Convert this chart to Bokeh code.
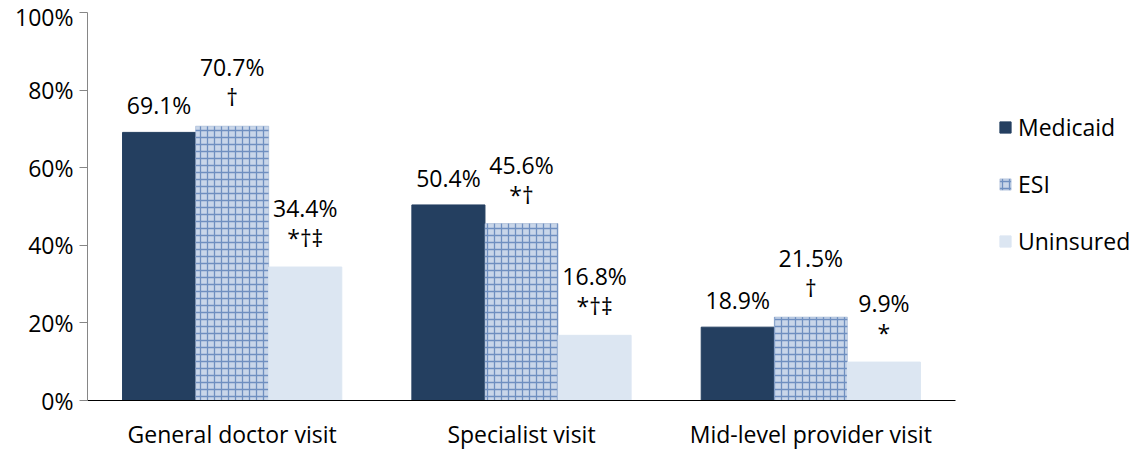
from bokeh.plotting import figure
from bokeh.models import FactorRange, Legend, LegendItem, ColumnDataSource
from bokeh.transform import dodge
from bokeh.core.properties import value
from bokeh.embed import file_html
from bokeh.resources import INLINE

categories = ["General doctor visit", "Specialist visit", "Mid-level provider visit"]
series = ["Medicaid", "ESI", "Uninsured"]
medicaid = [69.1, 50.4, 18.9]
esi = [70.7, 45.6, 21.5]
uninsured = [34.4, 16.8, 9.9]
medicaid_marks = ["", "", ""]
esi_marks = ["\u2020", "*\u2020", "\u2020"]
uninsured_marks = ["*\u2020\u2021", "*\u2020\u2021", "*"]
y_ticks = [0, 20, 40, 60, 80, 100]

FONT = "Open Sans"
FS = "23px"
W = 0.2526

p = figure(frame_width=868, frame_height=388, x_range=FactorRange(*categories, range_padding=0),
           y_range=(0, 100), output_backend="svg", toolbar_location=None,
           min_border_left=87, min_border_right=0, min_border_top=12, min_border_bottom=50)
p.outline_line_color = None
p.xgrid.grid_line_color = None
p.ygrid.grid_line_color = None
p.background_fill_color = "white"

styles = [
    dict(fill_color="#243F60", line_color="#243F60"),
    dict(fill_color="#c9d6e9", line_color="#8fa6cb", hatch_pattern="+", hatch_color="#6f8fc0",
         hatch_scale=7, hatch_weight=1.3, line_width=0.5),
    dict(fill_color="#DCE6F2", line_color="#DCE6F2"),
]
datas = [medicaid, esi, uninsured]
marks = [medicaid_marks, esi_marks, uninsured_marks]
offsets = [-W, 0, W]
renderers = []
for name, d, m, off, st in zip(series, datas, marks, offsets, styles):
    src = ColumnDataSource(dict(
        x=categories, y=d,
        lab=[f"{v:.1f}%" for v in d],
        mk=m,
        loff=[-59 if mm else -27 for mm in m],
    ))
    r = p.vbar(x=dodge("x", off, range=p.x_range), top="y", width=W, source=src, **st)
    renderers.append(r)
    p.text(x=dodge("x", off, range=p.x_range), y="y", text="lab", source=src,
           y_offset="loff", text_align="center", text_baseline="middle",
           text_font=value(FONT), text_font_size=FS, text_color="#000000")
    p.text(x=dodge("x", off, range=p.x_range), y="y", text="mk", source=src,
           y_offset=-29, text_align="center", text_baseline="middle",
           text_font=value(FONT), text_font_size=FS, text_color="#000000")

p.yaxis.ticker = y_ticks
p.yaxis.major_label_overrides = {t: f"{t}%" for t in y_ticks}
p.yaxis.axis_line_color = "#868686"
p.yaxis.major_tick_line_color = "#868686"
p.yaxis.major_tick_out = 8
p.yaxis.major_tick_in = 0
p.yaxis.minor_tick_line_color = None
p.yaxis.major_label_text_font = FONT
p.yaxis.major_label_text_font_size = FS
p.yaxis.major_label_text_color = "#000000"
p.yaxis.major_label_standoff = 6

p.xaxis.axis_line_color = "#000000"
p.xaxis.major_tick_line_color = None
p.xaxis.minor_tick_line_color = None
p.xaxis.major_label_text_font = FONT
p.xaxis.major_label_text_font_size = FS
p.xaxis.major_label_text_color = "#000000"
p.xaxis.major_label_standoff = 11

legend = Legend(items=[LegendItem(label=s, renderers=[r]) for s, r in zip(series, renderers)],
                location=(43, 143), orientation="vertical", spacing=25,
                glyph_width=14, glyph_height=14, label_standoff=6, padding=10, margin=0,
                label_text_font=FONT, label_text_font_size=FS, label_text_color="#000000",
                border_line_color=None, background_fill_alpha=0)
p.add_layout(legend, "right")

open("out.html", "w").write(file_html(p, INLINE))
